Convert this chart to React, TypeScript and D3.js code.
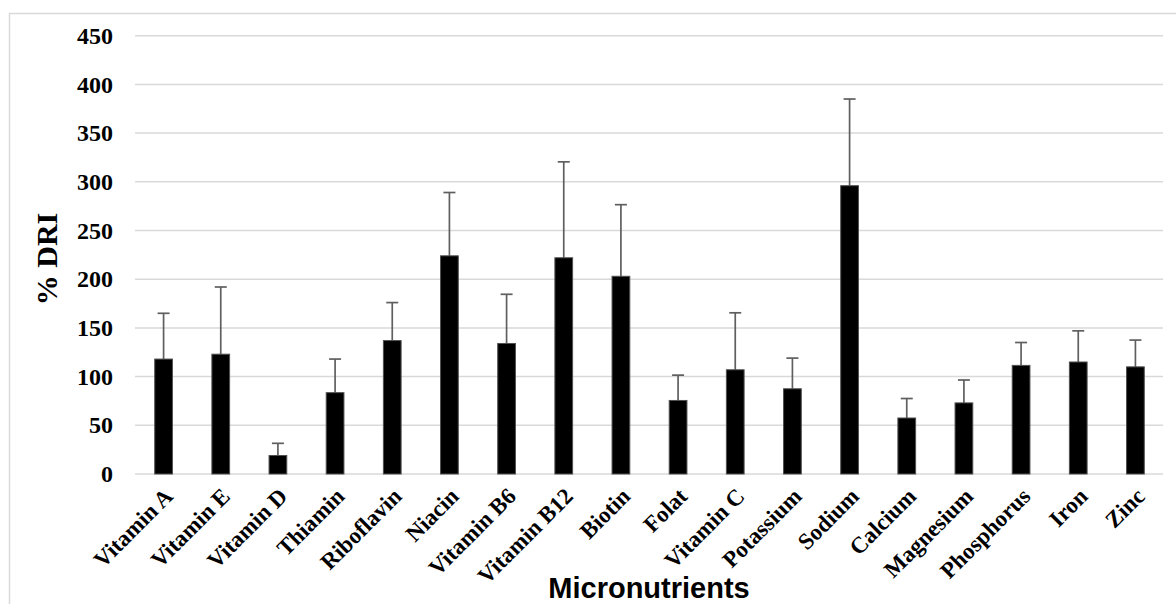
import { useEffect, useRef } from 'react';
import * as d3 from 'd3';

const nutrients = [
  'Vitamin A', 'Vitamin E', 'Vitamin D', 'Thiamin', 'Riboflavin', 'Niacin',
  'Vitamin B6', 'Vitamin B12', 'Biotin', 'Folat', 'Vitamin C', 'Potassium',
  'Sodium', 'Calcium', 'Magnesium', 'Phosphorus', 'Iron', 'Zinc',
];
const meanDri = [118, 123, 19, 83.5, 137, 224, 134, 222, 203, 75.5, 107, 87.5, 296, 57.5, 73, 111.5, 115, 110];
const upperDri = [165, 192, 31.5, 118, 176, 289, 184.5, 320.5, 276.5, 101.5, 165.5, 119, 385, 77.5, 96.5, 135, 147, 137.5];
const yTicks = [0, 50, 100, 150, 200, 250, 300, 350, 400, 450];

const W = 1176;
const H = 604;
const serif = '"Liberation Serif", "Times New Roman", serif';
const sans = '"Liberation Sans", Arial, sans-serif';

export default function App() {
  const svgRef = useRef<SVGSVGElement | null>(null);

  useEffect(() => {
    if (!svgRef.current) return;
    const svg = d3.select(svgRef.current);
    svg.selectAll('*').remove();

    const x = d3.scaleBand()
      .domain(nutrients)
      .range([135, 1164])
      .paddingInner(0.69)
      .paddingOuter(0.345);
    const y = d3.scaleLinear().domain([0, 450]).range([474, 35.7]);
    const cx = (n: string) => x(n)! + x.bandwidth() / 2;

    // outer frame
    svg.append('rect')
      .attr('x', 9.5).attr('y', 13.5)
      .attr('width', W + 20).attr('height', H + 20)
      .attr('fill', 'none').attr('stroke', '#d9d9d9').attr('stroke-width', 1.5);

    // gridlines
    svg.append('g')
      .selectAll('line')
      .data(yTicks)
      .join('line')
      .attr('x1', 135).attr('x2', 1163)
      .attr('y1', d => y(d)).attr('y2', d => y(d))
      .attr('stroke', '#d9d9d9').attr('stroke-width', 1.5);

    // y tick labels
    svg.append('g')
      .attr('font-family', serif).attr('font-size', 24).attr('font-weight', 'bold')
      .attr('text-anchor', 'end').attr('fill', '#000')
      .selectAll('text')
      .data(yTicks)
      .join('text')
      .attr('x', 113)
      .attr('y', d => y(d))
      .attr('dy', '0.34em')
      .text(d => d);

    const data = nutrients.map((n, i) => ({ n, v: meanDri[i], hi: upperDri[i] }));

    // error bars
    const eb = svg.append('g').attr('stroke', '#5f5f5f').attr('stroke-width', 1.7);
    eb.selectAll('line.v')
      .data(data)
      .join('line')
      .attr('class', 'v')
      .attr('x1', d => cx(d.n)).attr('x2', d => cx(d.n))
      .attr('y1', d => y(d.v)).attr('y2', d => y(d.hi));
    eb.selectAll('line.c')
      .data(data)
      .join('line')
      .attr('class', 'c')
      .attr('x1', d => cx(d.n) - 6).attr('x2', d => cx(d.n) + 6)
      .attr('y1', d => y(d.hi)).attr('y2', d => y(d.hi));

    // bars
    svg.append('g')
      .selectAll('rect')
      .data(data)
      .join('rect')
      .attr('x', d => x(d.n)!)
      .attr('y', d => y(d.v))
      .attr('width', x.bandwidth())
      .attr('height', d => y(0) - y(d.v))
      .attr('fill', '#000')
      .attr('stroke', '#505050').attr('stroke-width', 1);

    // x tick labels
    svg.append('g')
      .attr('font-family', serif).attr('font-size', 23).attr('font-weight', 'bold')
      .attr('text-anchor', 'end').attr('fill', '#000')
      .selectAll('text')
      .data(nutrients)
      .join('text')
      .attr('transform', d => `translate(${cx(d) - 1},${486}) rotate(-45)`)
      .attr('dy', '0.72em')
      .text(d => d);

    // axis titles
    svg.append('text')
      .attr('x', 649).attr('y', 598)
      .attr('text-anchor', 'middle')
      .attr('font-family', sans).attr('font-size', 29).attr('font-weight', 'bold')
      .text('Micronutrients');

    svg.append('text')
      .attr('transform', 'translate(57,259) rotate(-90)')
      .attr('text-anchor', 'middle')
      .attr('font-family', serif).attr('font-size', 30).attr('font-weight', 'bold')
      .text('% DRI');
  }, []);

  return (
    <svg
      ref={svgRef}
      width={W}
      height={H}
      style={{ position: 'absolute', left: 0, top: 0, background: '#fff' }}
    />
  );
}
